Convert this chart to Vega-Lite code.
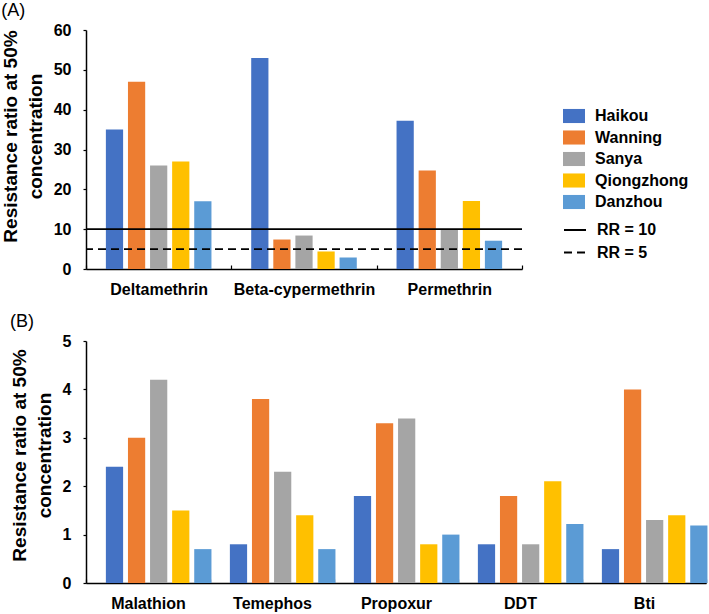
{
  "$schema": "https://vega.github.io/schema/vega-lite/v6.json",
  "padding": {"left": 1, "top": 2, "right": 2, "bottom": 2},
  "background": "white",
  "config": {
    "view": {"stroke": null},
    "font": "Liberation Sans",
    "axis": {
      "labelFont": "Liberation Sans", "labelFontSize": 16, "labelFontWeight": "bold", "labelColor": "black",
      "titleFont": "Liberation Sans", "titleFontSize": 19, "titleFontWeight": "bold", "titleColor": "black",
      "domainColor": "black", "domainWidth": 1.5, "tickColor": "black", "tickWidth": 1.2, "grid": false,
      "labelOverlap": false
    },
    "legend": {"labelFont": "Liberation Sans", "labelFontSize": 16, "labelFontWeight": "bold", "labelColor": "black", "padding": 0},
    "title": {"font": "Liberation Sans", "fontSize": 18, "fontWeight": "normal", "color": "black", "anchor": "start", "frame": "bounds"}
  },
  "spacing": 16,
  "resolve": {"scale": {"color": "independent", "strokeDash": "independent"}, "legend": {"color": "independent", "strokeDash": "independent"}},
  "vconcat": [
    {
      "title": {"text": "(A)", "offset": 2, "dx": 0},
      "width": 436, "height": 239,
      "encoding": {
        "y": {"field": "value", "type": "quantitative", "scale": {"domain": [0, 60]},
              "axis": {"values": [0, 10, 20, 30, 40, 50, 60], "tickSize": 3, "labelPadding": 12, "labelOverlap": false,
                       "title": ["Resistance ratio at 50%", "concentration"], "titleLineHeight": 25, "titleY": 106, "titlePadding": 8}}
      },
      "layer": [
        {
          "data": {"values": [
            {"insecticide": "Deltamethrin", "region": "Haikou", "value": 35},
            {"insecticide": "Deltamethrin", "region": "Wanning", "value": 47},
            {"insecticide": "Deltamethrin", "region": "Sanya", "value": 26},
            {"insecticide": "Deltamethrin", "region": "Qiongzhong", "value": 27},
            {"insecticide": "Deltamethrin", "region": "Danzhou", "value": 17},
            {"insecticide": "Beta-cypermethrin", "region": "Haikou", "value": 53},
            {"insecticide": "Beta-cypermethrin", "region": "Wanning", "value": 7.4},
            {"insecticide": "Beta-cypermethrin", "region": "Sanya", "value": 8.4},
            {"insecticide": "Beta-cypermethrin", "region": "Qiongzhong", "value": 4.4},
            {"insecticide": "Beta-cypermethrin", "region": "Danzhou", "value": 2.9},
            {"insecticide": "Permethrin", "region": "Haikou", "value": 37.2},
            {"insecticide": "Permethrin", "region": "Wanning", "value": 24.7},
            {"insecticide": "Permethrin", "region": "Sanya", "value": 9.9},
            {"insecticide": "Permethrin", "region": "Qiongzhong", "value": 17.1},
            {"insecticide": "Permethrin", "region": "Danzhou", "value": 7.1}
          ]},
          "mark": {"type": "bar"},
          "encoding": {
            "x": {"field": "insecticide", "type": "nominal", "sort": ["Deltamethrin", "Beta-cypermethrin", "Permethrin"],
                  "scale": {"paddingInner": 0, "paddingOuter": 0},
                  "axis": {"title": null, "labelAngle": 0, "tickBand": "extent", "tickSize": -4, "labelPadding": 16}},
            "xOffset": {"field": "region", "type": "nominal", "sort": ["Haikou", "Wanning", "Sanya", "Qiongzhong", "Danzhou"],
                        "scale": {"paddingInner": 0.22, "paddingOuter": 0.9}},
            "color": {"field": "region", "type": "nominal",
                      "scale": {"domain": ["Haikou", "Wanning", "Sanya", "Qiongzhong", "Danzhou"],
                                "range": ["#4472C4", "#ED7D31", "#A5A5A5", "#FFC000", "#5B9BD5"]},
                      "legend": {"title": null, "orient": "none", "legendX": 477, "legendY": 75,
                                 "symbolType": "M-1,-0.64H1V0.64H-1Z", "symbolSize": 484, "symbolStrokeWidth": 0,
                                 "rowPadding": 2.5, "labelOffset": 10,
                                 "encode": {"symbols": {"update": {"fill": {"signal": "datum.value === 'Haikou' ? '#2F5597' : datum.value === 'Wanning' ? '#ED7D31' : datum.value === 'Sanya' ? '#A5A5A5' : datum.value === 'Qiongzhong' ? '#FFC000' : '#5B9BD5'"}}}}}}
          }
        },
        {
          "data": {"values": [
            {"label": "RR = 10", "value": 10},
            {"label": "RR = 5", "value": 5}
          ]},
          "mark": {"type": "rule", "color": "black", "strokeWidth": 1.8},
          "encoding": {
            "strokeDash": {"field": "label", "type": "nominal",
                           "scale": {"domain": ["RR = 10", "RR = 5"], "range": [[1, 0], [8, 5]]},
                           "legend": {"title": null, "orient": "none", "legendX": 477, "legendY": 188,
                                      "symbolType": "stroke", "symbolSize": 484, "symbolStrokeColor": "black", "symbolStrokeWidth": 2,
                                      "rowPadding": 2.5, "labelOffset": 10}}
          }
        }
      ]
    },
    {
      "title": {"text": "(B)", "offset": 2, "dx": 0},
      "width": 620, "height": 242,
      "data": {"values": [
        {"insecticide": "Malathion", "region": "Haikou", "value": 2.4},
        {"insecticide": "Malathion", "region": "Wanning", "value": 3.0},
        {"insecticide": "Malathion", "region": "Sanya", "value": 4.2},
        {"insecticide": "Malathion", "region": "Qiongzhong", "value": 1.5},
        {"insecticide": "Malathion", "region": "Danzhou", "value": 0.7},
        {"insecticide": "Temephos", "region": "Haikou", "value": 0.8},
        {"insecticide": "Temephos", "region": "Wanning", "value": 3.8},
        {"insecticide": "Temephos", "region": "Sanya", "value": 2.3},
        {"insecticide": "Temephos", "region": "Qiongzhong", "value": 1.4},
        {"insecticide": "Temephos", "region": "Danzhou", "value": 0.7},
        {"insecticide": "Propoxur", "region": "Haikou", "value": 1.8},
        {"insecticide": "Propoxur", "region": "Wanning", "value": 3.3},
        {"insecticide": "Propoxur", "region": "Sanya", "value": 3.4},
        {"insecticide": "Propoxur", "region": "Qiongzhong", "value": 0.8},
        {"insecticide": "Propoxur", "region": "Danzhou", "value": 1.0},
        {"insecticide": "DDT", "region": "Haikou", "value": 0.8},
        {"insecticide": "DDT", "region": "Wanning", "value": 1.8},
        {"insecticide": "DDT", "region": "Sanya", "value": 0.8},
        {"insecticide": "DDT", "region": "Qiongzhong", "value": 2.1},
        {"insecticide": "DDT", "region": "Danzhou", "value": 1.22},
        {"insecticide": "Bti", "region": "Haikou", "value": 0.7},
        {"insecticide": "Bti", "region": "Wanning", "value": 4.0},
        {"insecticide": "Bti", "region": "Sanya", "value": 1.3},
        {"insecticide": "Bti", "region": "Qiongzhong", "value": 1.4},
        {"insecticide": "Bti", "region": "Danzhou", "value": 1.19}
      ]},
      "mark": {"type": "bar"},
      "encoding": {
        "x": {"field": "insecticide", "type": "nominal", "sort": ["Malathion", "Temephos", "Propoxur", "DDT", "Bti"],
              "scale": {"paddingInner": 0, "paddingOuter": 0},
              "axis": {"title": null, "labelAngle": 0, "tickBand": "extent", "tickSize": -4, "labelPadding": 16}},
        "xOffset": {"field": "region", "type": "nominal", "sort": ["Haikou", "Wanning", "Sanya", "Qiongzhong", "Danzhou"],
                    "scale": {"paddingInner": 0.21, "paddingOuter": 0.87}},
        "y": {"field": "value", "type": "quantitative", "scale": {"domain": [0, 5]},
              "axis": {"values": [0, 1, 2, 3, 4, 5], "tickSize": 3, "labelPadding": 12,
                       "title": ["Resistance ratio at 50%", "concentration"], "titleLineHeight": 25, "titleY": 114, "titlePadding": 8}},
        "color": {"field": "region", "type": "nominal",
                  "scale": {"domain": ["Haikou", "Wanning", "Sanya", "Qiongzhong", "Danzhou"],
                            "range": ["#4472C4", "#ED7D31", "#A5A5A5", "#FFC000", "#5B9BD5"]},
                  "legend": null}
      }
    }
  ]
}
